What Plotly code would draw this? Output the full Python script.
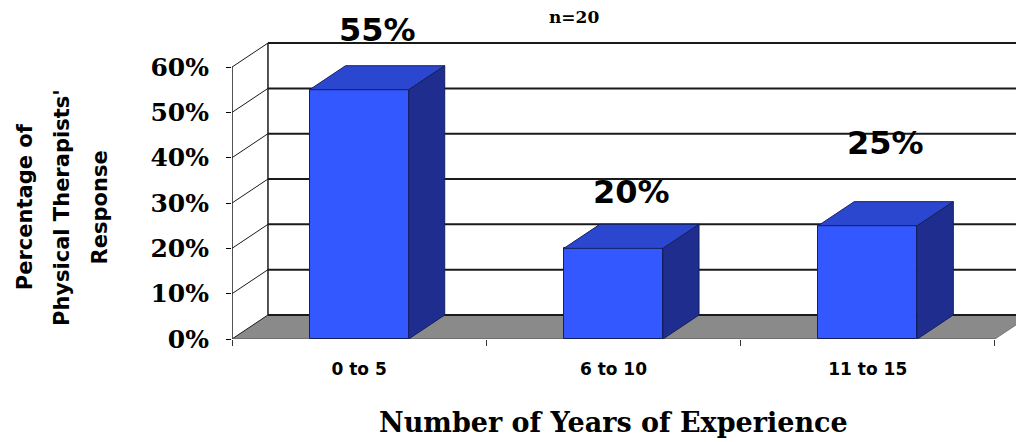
import plotly.graph_objects as go

# ---------------- data ----------------
categories = ["0 to 5", "6 to 10", "11 to 15"]
values = [55, 20, 25]
data_labels = ["55%", "20%", "25%"]
y_ticks = [0, 10, 20, 30, 40, 50, 60]
y_tick_labels = ["0%", "10%", "20%", "30%", "40%", "50%", "60%"]
title_text = "n=20"
x_title = "Number of Years of Experience"
y_title_lines = ["Percentage of", "Physical Therapists'", "Response"]

# ---------------- style / geometry ----------------
DX = 0.1415          # 3-D depth offset in x (category units)
DY = 5.3             # 3-D depth offset in y (percent units)
BAR_W = 0.39
X_RANGE = [-0.5, 2.583]
Y_RANGE = [0, 74.8]
LABEL_OFFSET = [13.2, 12.4, 18.2]
FRONT = "#3458FF"
TOP = "#2C47CF"
SIDE = "#1F2E8E"
EDGE = "#14205E"
FLOOR = "#8A8A8A"
GRID = "#1a1a1a"

xs = list(range(len(categories)))
x_left = -0.5
x_right = len(categories) - 0.5
y_max = y_ticks[-1]

fig = go.Figure()

# front faces
fig.add_trace(go.Bar(
    x=xs, y=values, width=BAR_W,
    marker=dict(color=FRONT, line=dict(color=EDGE, width=1)),
    hoverinfo="skip", showlegend=False,
))

# top and side faces
for x, v in zip(xs, values):
    l, r = x - BAR_W / 2, x + BAR_W / 2
    fig.add_trace(go.Scatter(
        x=[l, r, r + DX, l + DX, l], y=[v, v, v + DY, v + DY, v],
        mode="lines", fill="toself", fillcolor=TOP,
        line=dict(color=EDGE, width=1), hoverinfo="skip", showlegend=False,
    ))
    fig.add_trace(go.Scatter(
        x=[r, r + DX, r + DX, r, r], y=[0, DY, v + DY, v, 0],
        mode="lines", fill="toself", fillcolor=SIDE,
        line=dict(color=EDGE, width=1), hoverinfo="skip", showlegend=False,
    ))

shapes = []
# floor
shapes.append(dict(
    type="path", xref="x", yref="y", layer="below",
    path=f"M {x_left},0 L {x_right},0 L {x_right + DX},{DY} L {x_left + DX},{DY} Z",
    fillcolor=FLOOR, line=dict(width=0),
))
# back wall gridlines and side-wall depth lines
for t in y_ticks:
    shapes.append(dict(type="line", xref="x", yref="y", layer="below",
                       x0=x_left + DX, x1=X_RANGE[1] + 0.5, y0=t + DY, y1=t + DY,
                       line=dict(color=GRID, width=2)))
    shapes.append(dict(type="line", xref="x", yref="y", layer="below",
                       x0=x_left, x1=x_left + DX, y0=t, y1=t + DY,
                       line=dict(color=GRID, width=1)))
# back wall left edge
shapes.append(dict(type="line", xref="x", yref="y", layer="below",
                   x0=x_left + DX, x1=x_left + DX, y0=DY, y1=y_max + DY,
                   line=dict(color=GRID, width=1.5)))
# front value axis
shapes.append(dict(type="line", xref="x", yref="y", layer="below",
                   x0=x_left, x1=x_left, y0=0, y1=y_max,
                   line=dict(color=GRID, width=1.5)))
# floor front & right edges
shapes.append(dict(type="line", xref="x", yref="y", layer="below",
                   x0=x_left, x1=x_right, y0=0, y1=0,
                   line=dict(color="#555555", width=1)))
shapes.append(dict(type="line", xref="x", yref="y", layer="below",
                   x0=x_right, x1=x_right + DX, y0=0, y1=DY,
                   line=dict(color="#777777", width=1)))

annotations = []
for x, v, lab, off in zip(xs, values, data_labels, LABEL_OFFSET):
    annotations.append(dict(
        x=x + DX / 2, y=v + off, xref="x", yref="y", text=lab, showarrow=False,
        font=dict(family="DejaVu Sans", size=32, color="black", weight="bold"),
        xanchor="center", yanchor="middle",
    ))

annotations.append(dict(
    x=1.0, y=-0.245, xref="x", yref="paper", text=x_title, showarrow=False,
    font=dict(family="DejaVu Serif", size=27, color="black", weight="bold"),
    xanchor="center", yanchor="middle",
))
for px, line in zip([-0.264, -0.217, -0.168], y_title_lines):
    annotations.append(dict(
        x=px, y=0.389, xref="paper", yref="paper", text=line, showarrow=False,
        textangle=-90,
        font=dict(family="DejaVu Sans", size=21, color="black", weight="bold"),
        xanchor="center", yanchor="middle",
    ))
annotations.append(dict(
    x=0.436, y=0.95, xref="paper", yref="paper", text=title_text, showarrow=False,
    font=dict(family="DejaVu Serif", size=17, color="black", weight="bold"),
    xanchor="center", yanchor="middle",
))

fig.update_layout(
    width=1016, height=442,
    margin=dict(l=232, r=0, t=0, b=103),
    paper_bgcolor="white", plot_bgcolor="white",
    shapes=shapes, annotations=annotations,
    bargap=0, showlegend=False,
)
fig.update_xaxes(
    range=X_RANGE, tickvals=xs, ticktext=categories, ticks="",
    showgrid=False, zeroline=False, showline=False,
    tickfont=dict(family="DejaVu Sans", size=17, color="black", weight="bold"),
    ticklabelstandoff=18,
    minor=dict(tickmode="array", tickvals=[x - 0.5 for x in xs] + [x_right],
               ticks="outside", ticklen=6, tickcolor="#333333", showgrid=False),
)
fig.update_yaxes(
    range=Y_RANGE, tickvals=y_ticks, ticktext=y_tick_labels,
    ticks="outside", ticklen=5, tickcolor="black",
    showgrid=False, zeroline=False, showline=False,
    tickfont=dict(family="DejaVu Serif", size=25, color="black", weight="bold"),
    ticklabelstandoff=12,
)

fig.write_html("out.html")
